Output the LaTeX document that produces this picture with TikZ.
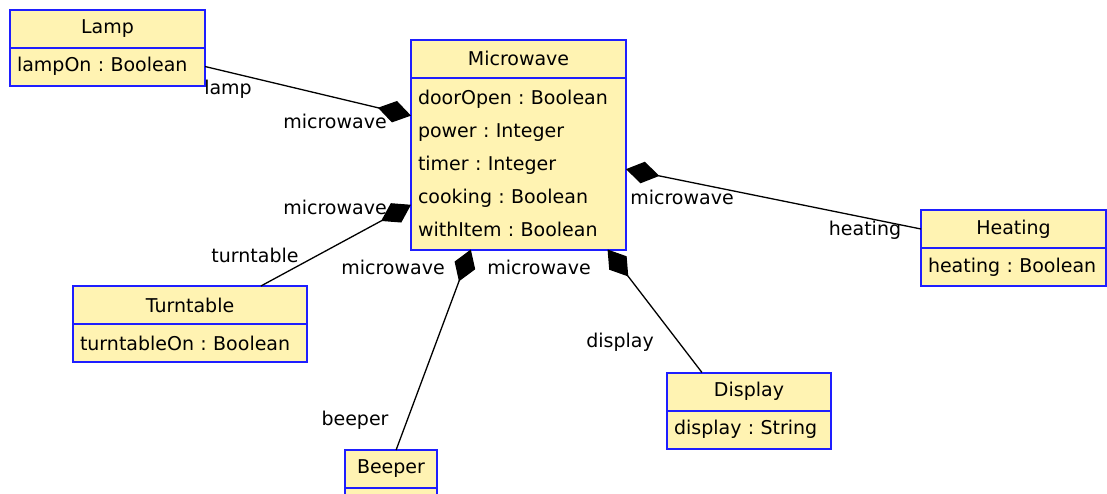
\documentclass[tikz,border=0pt]{standalone}
\usepackage{fontspec}
\setmainfont{DejaVu Sans}
\usetikzlibrary{arrows.meta}
\definecolor{classfill}{RGB}{255,243,178}
\definecolor{classline}{RGB}{30,30,255}
\frenchspacing
\begin{document}
\begin{tikzpicture}[x=1pt,y=-1pt,every node/.style={font=\fontsize{19}{33}\selectfont},
  hd/.style={draw=classline,fill=classfill,line width=2pt,inner sep=0pt,outer sep=0pt,minimum height=38pt},
  attr/.style={hd,anchor=north,align=left,inner xsep=7pt},
  role/.style={inner sep=0pt},
  comp/.style={line width=1.3pt,-{Diamond[length=34pt,width=22pt]}}]
\useasboundingbox (0,0) rectangle (1107,493);
\fill[white] (0,0) rectangle (1107,493);
\clip (0,0) rectangle (1107,493);
% Classes
\node[hd,minimum width=215pt] (mw) at (518.5,58.5) {Microwave};
\node[attr,text width=201pt,minimum height=172pt] (mwattr) at (mw.south) {doorOpen : Boolean\\power : Integer\\timer : Integer\\cooking : Boolean\\withItem : Boolean};
\node[hd,minimum width=195pt] (lamp) at (107.5,28.5) {Lamp};
\node[attr,text width=181pt] (lampattr) at (lamp.south) {lampOn : Boolean};
\node[hd,minimum width=185pt] (heating) at (1013.5,229) {Heating};
\node[attr,text width=171pt] (heatingattr) at (heating.south) {heating : Boolean};
\node[hd,minimum width=234pt] (turntable) at (190,305) {Turntable};
\node[attr,text width=220pt] (turntableattr) at (turntable.south) {turntableOn : Boolean};
\node[hd,minimum width=164pt] (display) at (749,391.5) {Display};
\node[attr,text width=150pt] (displayattr) at (display.south) {display : String};
\node[hd,minimum width=92pt] (beeper) at (391,469) {Beeper};
\node[attr,text width=78pt] (beeperattr) at (beeper.south) {};
% Role names
\node[role] (lamprole) at (228,89) {lamp};
\node[role] (mwrolelamp) at (335,121) {microwave};
\node[role] (mwroleturn) at (335,207.5) {microwave};
\node[role] (turntablerole) at (255,255.5) {turntable};
\node[role] (mwrolebeep) at (393,267.5) {microwave};
\node[role] (mwroledisp) at (539,267.5) {microwave};
\node[role] (displayrole) at (620,342.5) {display};
\node[role] (beeperrole) at (355,420.5) {beeper};
\node[role] (mwroleheat) at (682,197.5) {microwave};
\node[role] (heatingrole) at (865,230.5) {heating};
% Compositions
\draw[comp] (lampattr.east) -- (mwattr.156);
\draw[comp] (turntable.15) -- (mwattr.201);
\draw[comp] (beeper.75) -- (mwattr.241);
\draw[comp] (display.158) -- (mwattr.316);
\draw[comp] (heating.west) -- (mwattr.357);
\end{tikzpicture}
\end{document}
